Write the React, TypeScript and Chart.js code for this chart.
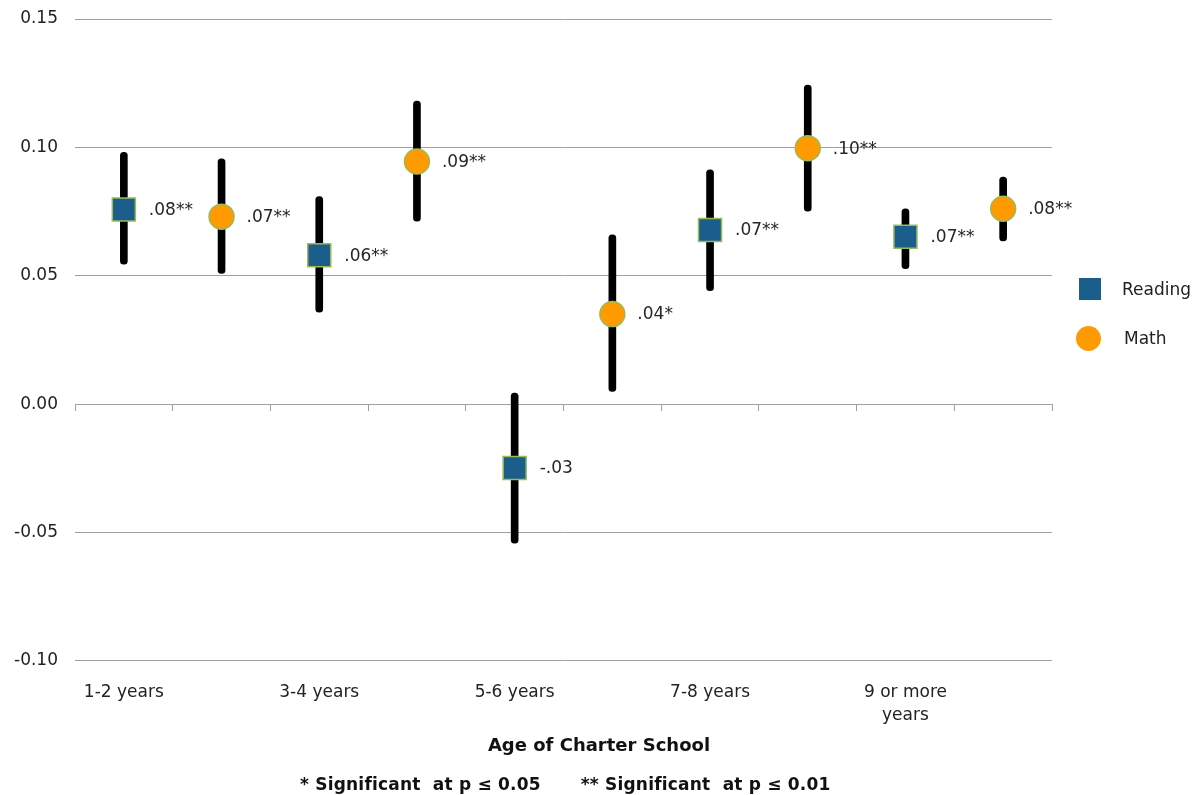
import { useEffect, useRef } from 'react'
import { Chart, registerables } from 'chart.js'

Chart.register(...registerables)

// age groups on the x axis (one Reading and one Math slot each)
const ageGroups: (string | string[])[] = ['1-2 years', '3-4 years', '5-6 years', '7-8 years', ['9 or more', 'years']]

const readingEst = [0.0758, 0.058, -0.0249, 0.0678, 0.0652]
const readingLow = [0.0545, 0.0358, -0.0541, 0.0442, 0.0528]
const readingHigh = [0.0981, 0.0808, 0.0043, 0.0913, 0.0761]
const readingText = ['.08**', '.06**', '-.03', '.07**', '.07**']

const mathEst = [0.073, 0.0945, 0.0351, 0.0997, 0.0761]
const mathLow = [0.0509, 0.0713, 0.005, 0.0752, 0.0636]
const mathHigh = [0.0955, 0.118, 0.0659, 0.1243, 0.0884]
const mathText = ['.07**', '.09**', '.04*', '.10**', '.08**']

const yMin = -0.1
const yMax = 0.15
const yStep = 0.05

const BLUE = '#1B5E8C'
const ORANGE = '#FF9A00'
const EDGE = '#9BBB59'
const GRID = '#A0A0A0'
const FONT = '"DejaVu Sans", Verdana, sans-serif'

const slotLabels = ageGroups.flatMap(g => [g, ''])
const readingSlots = readingEst.flatMap(v => [v, null])
const mathSlots = mathEst.flatMap(v => [null, v])
const errorSlots = readingLow.flatMap((lo, i) => [[lo, readingHigh[i]], [mathLow[i], mathHigh[i]]])
const textSlots = readingText.flatMap((t, i) => [t, mathText[i]])

// writes the ".08**" style values to the right of each marker
const valueLabels = {
    id: 'valueLabels',
    afterDatasetsDraw(chart: Chart) {
        const ctx = chart.ctx
        ctx.save()
        ctx.font = `17px ${FONT}`
        ctx.fillStyle = '#262626'
        ctx.textAlign = 'left'
        ctx.textBaseline = 'middle'
        ;[1, 2].forEach(di => {
            const meta = chart.getDatasetMeta(di)
            meta.data.forEach((el: any, i: number) => {
                const raw = (chart.data.datasets[di].data as any[])[i]
                if (raw === null || raw === undefined) return
                ctx.fillText(textSlots[i], el.x + 25, el.y + 1)
            })
        })
        ctx.restore()
    }
}

export default function App() {
    const chartRef = useRef<HTMLCanvasElement>(null)
    const chartInstance = useRef<Chart | null>(null)

    useEffect(() => {
        document.body.style.margin = '0'
        if (!chartRef.current) return
        if (chartInstance.current) chartInstance.current.destroy()
        const ctx = chartRef.current.getContext('2d')
        if (!ctx) return

        chartInstance.current = new Chart(ctx, {
            type: 'bar',
            data: {
                labels: slotLabels,
                datasets: [
                    {
                        type: 'bar',
                        label: 'range',
                        data: errorSlots as any,
                        backgroundColor: '#000000',
                        barThickness: 7,
                        borderRadius: 4,
                        borderSkipped: false,
                        order: 3
                    },
                    {
                        type: 'line',
                        label: 'Reading',
                        data: readingSlots,
                        showLine: false,
                        pointStyle: 'rect',
                        pointRadius: 16.3,
                        backgroundColor: BLUE,
                        borderColor: EDGE,
                        borderWidth: 1.5,
                        order: 1
                    } as any,
                    {
                        type: 'line',
                        label: 'Math',
                        data: mathSlots,
                        showLine: false,
                        pointStyle: 'circle',
                        pointRadius: 12.5,
                        backgroundColor: ORANGE,
                        borderColor: EDGE,
                        borderWidth: 1.5,
                        order: 1
                    } as any
                ]
            },
            options: {
                responsive: true,
                maintainAspectRatio: false,
                animation: false,
                layout: { padding: { top: 19, right: 146, bottom: 39.5, left: 0 } },
                plugins: {
                    legend: { display: false },
                    tooltip: { enabled: false }
                },
                scales: {
                    x: {
                        type: 'category',
                        position: 'bottom',
                        offset: true,
                        grid: { display: false },
                        border: { display: false },
                        afterFit: (scale: any) => { scale.height = 94.6 },
                        ticks: {
                            autoSkip: false,
                            maxRotation: 0,
                            padding: 12,
                            color: '#222222',
                            font: { family: FONT, size: 17, lineHeight: 1.35 }
                        }
                    },
                    xz: {
                        type: 'category',
                        position: { y: 0 } as any,
                        offset: true,
                        grid: { drawOnChartArea: false, drawTicks: true, tickLength: 6, offset: true, color: GRID },
                        border: { display: true, color: GRID, width: 1 },
                        ticks: { display: false }
                    },
                    y: {
                        min: yMin,
                        max: yMax,
                        afterFit: (scale: any) => {
                            scale.width = 75
                            scale.paddingTop = 10
                            scale.paddingBottom = 10
                        },
                        grid: { color: GRID, drawTicks: false },
                        border: { display: false },
                        ticks: {
                            stepSize: yStep,
                            padding: 17,
                            color: '#222222',
                            font: { family: FONT, size: 17 },
                            callback: (v: any) => Number(v).toFixed(2)
                        }
                    }
                }
            },
            plugins: [valueLabels]
        })

        return () => {
            if (chartInstance.current) {
                chartInstance.current.destroy()
                chartInstance.current = null
            }
        }
    }, [])

    const legendText: React.CSSProperties = {
        position: 'absolute',
        fontFamily: FONT,
        fontSize: 17,
        color: '#222222',
        lineHeight: '22px'
    }

    return (
        <div style={{ position: 'relative', width: 1198, height: 795, background: '#ffffff' }}>
            <canvas ref={chartRef}></canvas>
            <div style={{ position: 'absolute', left: 1079, top: 278, width: 22, height: 22, background: BLUE }}></div>
            <div style={{ ...legendText, left: 1122, top: 278 }}>Reading</div>
            <div style={{ position: 'absolute', left: 1076, top: 326, width: 25, height: 25, borderRadius: '50%', background: ORANGE }}></div>
            <div style={{ ...legendText, left: 1124, top: 327 }}>Math</div>
            <div style={{
                position: 'absolute', left: 0, width: 1198, top: 734, textAlign: 'center', fontFamily: FONT,
                fontSize: 18, fontWeight: 'bold', color: '#111111', lineHeight: '22px'
            }}>
                Age of Charter School
            </div>
            <div style={{
                position: 'absolute', left: 300, top: 773, fontFamily: FONT, fontSize: 17, letterSpacing: '0.2px',
                fontWeight: 'bold', color: '#111111', whiteSpace: 'pre', lineHeight: '22px'
            }}>
                <span>* Significant  at p ≤ 0.05</span>
                <span style={{ marginLeft: 40 }}>** Significant  at p ≤ 0.01</span>
            </div>
        </div>
    )
}
